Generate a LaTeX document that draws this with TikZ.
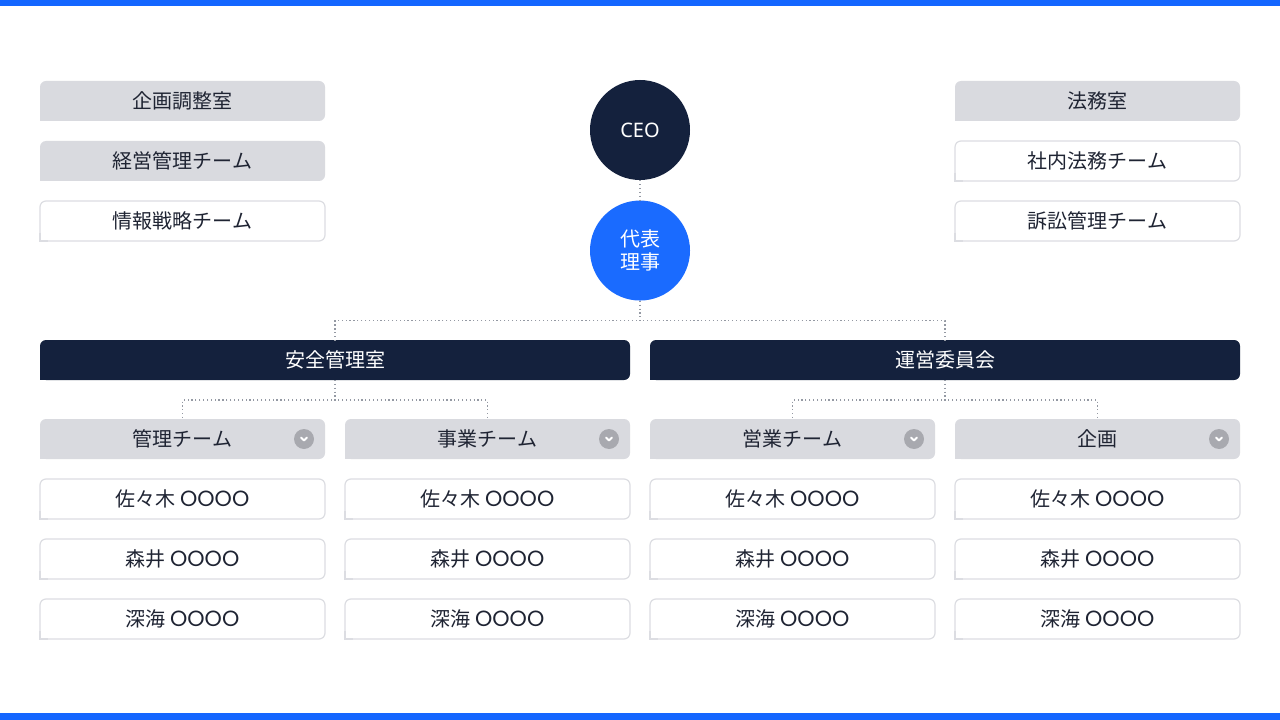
\documentclass[tikz,border=0pt]{standalone}
\usepackage{fontspec}
\setmainfont{Noto Sans CJK JP}
\newfontfamily\latinfont{Noto Sans}
\newfontfamily\roundfont{Poppins}
\usetikzlibrary{positioning}

\definecolor{navy}{HTML}{14213D}
\definecolor{repblue}{HTML}{1A6BFF}
\definecolor{barblue}{HTML}{1466FF}
\definecolor{unitgray}{HTML}{D9DADF}
\definecolor{edgegray}{HTML}{DCDDE2}
\definecolor{icongray}{HTML}{A8A9AF}
\definecolor{dotgray}{HTML}{9499A3}
\definecolor{ink}{HTML}{1F2433}

\newcommand\blank{{\roundfont\fontsize{16.5}{18}\selectfont OOOO}}

\begin{document}
\begin{tikzpicture}[x=0.75pt,y=-0.75pt,node distance=15pt,
                    every node/.style={font=\fontsize{15}{18}\selectfont,text=ink},
                    unit/.style={rectangle,rounded corners=4.5pt,outer sep=0pt,inner sep=0pt,
                                 minimum width=213.75pt,minimum height=30pt},
                    head/.style={unit,fill=unitgray},
                    plain/.style={unit,fill=white,draw=edgegray,line width=0.9pt},
                    bar/.style={unit,fill=navy,text=white,minimum width=442.5pt},
                    top node/.style={circle,text=white,minimum size=75pt,inner sep=0pt,align=center},
                    icon/.style={circle,fill=icongray,minimum size=15pt,inner sep=0pt,
                      path picture={\draw[white,line width=1.4pt,line cap=round,line join=round]
                        ([shift={(-3,-1.5)}]path picture bounding box.center) -- ++(3,3) -- ++(3,-3);}},
                    link/.style={draw=dotgray,line width=0.9pt,dotted}]
\useasboundingbox (0,0) rectangle (1280,720);
\fill[white] (0,0) rectangle (1280,720);
\fill[barblue] (0,0) rectangle (1280,6);
\fill[barblue] (0,713) rectangle (1280,720);

% top
\node[top node,fill=navy,font=\fontsize{15}{18}\latinfont] (ceo) at (640,130) {CEO};
\node[top node,fill=repblue,font=\fontsize{15}{17.5}\selectfont,below=of ceo] (rep) {代表\\理事};

% staff offices
\node[head,anchor=north west] (kikaku) at (40,81) {企画調整室};
\node[head,below=of kikaku] (keiei) {経営管理チーム};
\node[plain,below=of keiei] (joho) {情報戦略チーム};

\node[head,anchor=north west] (homu) at (955,81) {法務室};
\node[plain,below=of homu] (shanai) {社内法務チーム};
\node[plain,below=of shanai] (sosho) {訴訟管理チーム};

% divisions
\node[bar,anchor=north west] (anzen) at (40,340) {安全管理室};
\node[bar,right=of anzen] (unei) {運営委員会};

% teams
\node[head,anchor=north west] (kanri) at (40,419) {管理チーム};
\node[head,right=of kanri] (jigyo) {事業チーム};
\node[head,right=of jigyo] (eigyo) {営業チーム};
\node[head,right=of eigyo] (plan) {企画};

\foreach \n in {kikaku,keiei,homu} \fill[unitgray] (\n.south west) rectangle ++(8,-8);
\foreach \n in {anzen,unei} \fill[navy] (\n.south west) rectangle ++(8,-8);
\foreach \n in {joho,shanai,sosho} {
  \fill[white] (\n.south west) rectangle ++(8,-8);
  \draw[edgegray,line width=0.9pt] (\n.south west) ++(0,-8) |- ++(8,8);
}

\foreach \team in {kanri,jigyo,eigyo,plan} {
  \fill[unitgray] (\team.south west) rectangle ++(8,-8);
  \node[icon] (\team-icon) at ([xshift=-15.75pt]\team.east) {};
  \node[plain,below=of \team] (\team-1) {佐々木 \blank};
  \node[plain,below=of \team-1] (\team-2) {森井 \blank};
  \node[plain,below=of \team-2] (\team-3) {深海 \blank};
  \foreach \k in {1,2,3} {
    \fill[white] (\team-\k.south west) rectangle ++(8,-8);
    \draw[edgegray,line width=0.9pt] (\team-\k.south west) ++(0,-8) |- ++(8,8);
  }
}

\path[link]
  (ceo) -- (rep)
  (rep.south) -- ++(0,20) -| (anzen.north)
  (rep.south) -- ++(0,20) -| (unei.north)
  (anzen.south) -- ++(0,20) -| (kanri.north)
  (anzen.south) -- ++(0,20) -| (jigyo.north)
  (unei.south) -- ++(0,20) -| (eigyo.north)
  (unei.south) -- ++(0,20) -| (plan.north);
\end{tikzpicture}
\end{document}
